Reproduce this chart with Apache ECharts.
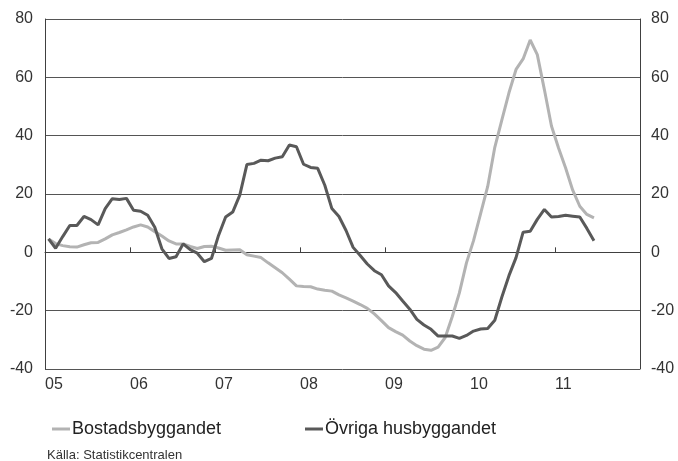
<!DOCTYPE html>
<html>
<head>
<meta charset="utf-8">
<script src="https://cdn.jsdelivr.net/npm/echarts@6/dist/echarts.min.js"></script>
<style>
html,body{margin:0;padding:0;background:#fff;}
#c{width:678px;height:461px;}
</style>
</head>
<body>
<div id="c"></div>
<script>
// Year tick labels (one per January, 2005..2012)
var yearLabels = ['05','06','07','08','09','10','11',''];
var yTicks = [-40,-20,0,20,40,60,80];
var seriesNames = ['Bostadsbyggandet','Övriga husbyggandet'];
// Monthly values from Jan 2005 to Jun 2011
var bostads = [4.6,3.0,2.3,1.9,1.8,2.6,3.3,3.4,4.6,6.0,6.8,7.7,
  8.7,9.4,8.7,7.1,5.6,3.9,2.9,2.9,2.0,1.3,2.0,2.1,
  1.5,0.7,0.8,0.9,-0.8,-1.3,-1.8,-3.6,-5.3,-7.0,-9.2,-11.5,
  -11.7,-11.8,-12.6,-13.0,-13.3,-14.6,-15.6,-16.7,-17.9,-19.2,-21.1,-23.4,
  -25.8,-27.2,-28.4,-30.4,-32.0,-33.2,-33.6,-32.5,-29.2,-22.0,-13.9,-3.6,
  4.0,13.3,22.6,36.0,45.4,54.7,62.7,66.3,72.8,67.8,55.8,43.3,
  35.8,28.9,21.3,15.8,13.0,11.8];
var ovriga = [4.6,1.4,5.4,9.2,9.2,12.3,11.2,9.4,15.0,18.4,18.1,18.5,
  14.4,14.1,12.7,8.6,1.2,-2.1,-1.5,2.9,0.9,-0.3,-3.2,-2.1,
  5.8,12.1,13.8,19.6,30.1,30.5,31.6,31.4,32.3,32.8,36.8,36.2,
  30.2,29.1,28.8,23.0,15.0,12.3,7.5,1.7,-1.1,-4.0,-6.3,-7.7,
  -11.5,-13.8,-16.7,-19.5,-23.0,-24.9,-26.4,-28.7,-28.7,-28.7,-29.5,-28.5,
  -27.0,-26.3,-26.1,-23.3,-15.3,-8.0,-1.8,6.9,7.2,11.3,14.7,12.1,
  12.3,12.7,12.4,12.1,8.2,4.0];

// monthly observations are plotted at mid-month on a month-count axis
function toPoints(arr){ return arr.map(function(v,i){ return [i+0.5, v]; }); }

var font = 'Liberation Sans, Arial, sans-serif';
var chart = echarts.init(document.getElementById('c'), null, {renderer:'canvas'});
chart.setOption({
  animation:false,
  backgroundColor:'#ffffff',
  textStyle:{fontFamily:font},
  grid:{left:45,right:38,top:19,bottom:92,containLabel:false},
  xAxis:{
    type:'value', min:0, max:84, interval:12,
    axisLine:{show:true,lineStyle:{color:'#404040',width:1}},
    axisTick:{show:true,inside:true,length:5,lineStyle:{color:'#404040'}},
    splitLine:{show:false},
    axisLabel:{
      formatter:function(v){ return yearLabels[Math.round(v/12)] || ''; },
      align:'left', margin:8, fontSize:16, color:'#333', fontFamily:font,
      showMaxLabel:false
    }
  },
  yAxis:[{
    type:'value', min:yTicks[0], max:yTicks[yTicks.length-1], interval:20, position:'left',
    axisLine:{show:true,lineStyle:{color:'#404040',width:1}},
    axisTick:{show:false},
    splitLine:{show:true,lineStyle:{color:'#555',width:1}},
    axisLabel:{margin:12,fontSize:16,color:'#333',fontFamily:font}
  },{
    type:'value', min:yTicks[0], max:yTicks[yTicks.length-1], interval:20, position:'right',
    axisLine:{show:true,lineStyle:{color:'#404040',width:1}},
    axisTick:{show:false},
    splitLine:{show:false},
    axisLabel:{margin:11,fontSize:16,color:'#333',fontFamily:font}
  }],
  legend:[{
    data:[seriesNames[0]], left:47, top:415, itemWidth:18, itemHeight:3, itemGap:4,
    icon:'rect', textStyle:{fontSize:18,color:'#222',fontFamily:font,padding:[0,0,0,-3]}
  },{
    data:[seriesNames[1]], left:300, top:415, itemWidth:18, itemHeight:3, itemGap:4,
    icon:'rect', textStyle:{fontSize:18,color:'#222',fontFamily:font,padding:[0,0,0,-3]}
  }],
  graphic:[{
    type:'text', left:47, top:449,
    style:{text:'Källa: Statistikcentralen', fontSize:13, fill:'#333', font:'13px Liberation Sans, Arial, sans-serif'}
  }],
  series:[{
    name:seriesNames[0], type:'line', data:toPoints(bostads), showSymbol:false,
    lineStyle:{color:'#b3b3b3',width:3}, itemStyle:{color:'#b3b3b3'}, z:2
  },{
    name:seriesNames[1], type:'line', data:toPoints(ovriga), showSymbol:false,
    lineStyle:{color:'#595959',width:3}, itemStyle:{color:'#595959'}, z:3
  }]
});
</script>
</body>
</html>
